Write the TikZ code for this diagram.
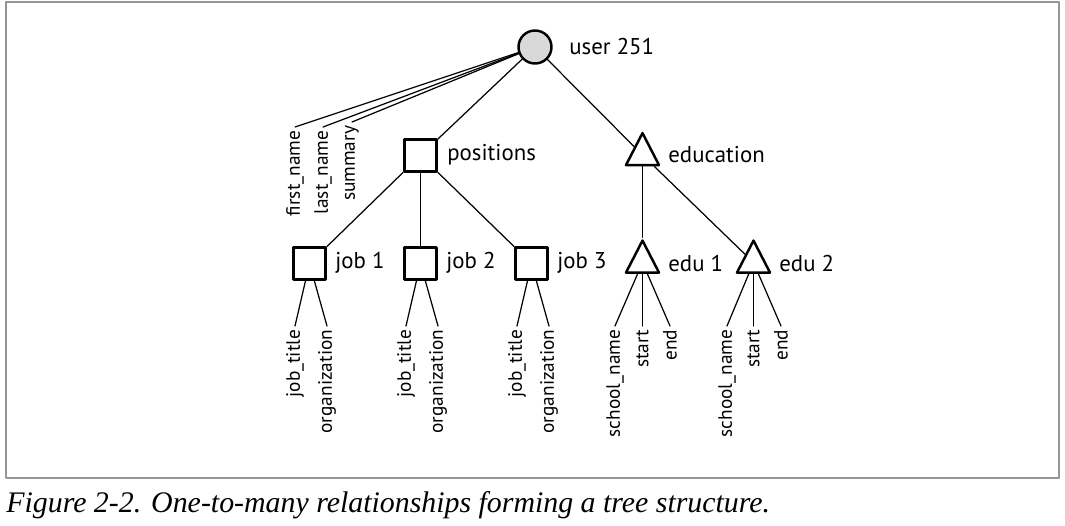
\documentclass[tikz,border=0pt]{standalone}
\usepackage{fontspec}
\setmainfont{Liberation Serif}
\setsansfont{PT Sans}
\usetikzlibrary{shapes.geometric}
\definecolor{nodegray}{RGB}{217,217,217}
\definecolor{framegray}{RGB}{150,150,150}
\begin{document}
\begin{tikzpicture}[x=0.02cm,y=-0.02cm,line cap=round,line join=round,
  font=\sffamily,
  recnode/.style={draw,line width=1.4pt,fill=white,minimum size=0.64cm,inner sep=0pt},
  trinode/.style={draw,line width=1.4pt,fill=white,isosceles triangle,shape border rotate=90,
    isosceles triangle stretches,minimum width=0.66cm,minimum height=0.64cm,inner sep=0pt},
  tag/.style={anchor=west,inner sep=0pt,font=\sffamily\fontsize{13}{15}\selectfont},
  attr/.style={rotate=90,anchor=east,inner sep=2pt,font=\sffamily\fontsize{11}{13}\selectfont},
  edge/.style={line width=0.7pt}]
\useasboundingbox (0,0) rectangle (1065,525);

% frame
\draw[framegray,line width=0.6pt] (6,2) rectangle (1059,478);

% root
\node[draw,circle,line width=1.4pt,fill=nodegray,minimum size=0.66cm] (user) at (535,47) {};
\node[tag] (userL) at (569,47) {user 251};

% second level
\node[recnode] (pos) at (420.5,155.5) {};
\node[tag] (posL) at (447,155) {positions};
\node[trinode] (edu) at (642.5,155) {};
\node[tag] (eduL) at (668,155) {education};

% third level
\node[recnode] (job1) at (309.5,263.5) {};
\node[recnode] (job2) at (420.5,263.5) {};
\node[recnode] (job3) at (531.5,263.5) {};
\node[trinode] (edu1) at (642.5,262.5) {};
\node[trinode] (edu2) at (753.5,262.5) {};
\node[tag] (job1L) at (335,263) {job 1};
\node[tag] (job2L) at (446,263) {job 2};
\node[tag] (job3L) at (557,263) {job 3};
\node[tag] (edu1L) at (668,263) {edu 1};
\node[tag] (edu2L) at (779,263) {edu 2};

% attributes of the user
\node[attr] (fn) at (295,127) {first\_name};
\node[attr] (ln) at (323,127) {last\_name};
\node[attr] (sm) at (352,122) {summary};

% attributes of jobs
\node[attr] (jt1) at (295,326) {job\_title};
\node[attr] (or1) at (327,326) {organization};
\node[attr] (jt2) at (406,326) {job\_title};
\node[attr] (or2) at (438,326) {organization};
\node[attr] (jt3) at (517,326) {job\_title};
\node[attr] (or3) at (549,326) {organization};

% attributes of education
\node[attr] (sn1) at (615,326) {school\_name};
\node[attr] (st1) at (642.5,326) {start};
\node[attr] (en1) at (670,326) {end};
\node[attr] (sn2) at (727,326) {school\_name};
\node[attr] (st2) at (753.5,326) {start};
\node[attr] (en2) at (781,326) {end};

% connectors
\draw[edge] (user) -- (pos);
\draw[edge] (user) -- (edu);
\draw[edge] (user) -- (fn.east);
\draw[edge] (user) -- (ln.east);
\draw[edge] (user) -- (sm.east);
\draw[edge] (pos) -- (job1);
\draw[edge] (pos) -- (job2);
\draw[edge] (pos) -- (job3);
\draw[edge] (edu) -- (edu1);
\draw[edge] (edu) -- (edu2);
\draw[edge] (job1) -- (jt1.east);
\draw[edge] (job1) -- (or1.east);
\draw[edge] (job2) -- (jt2.east);
\draw[edge] (job2) -- (or2.east);
\draw[edge] (job3) -- (jt3.east);
\draw[edge] (job3) -- (or3.east);
\draw[edge] (edu1) -- (sn1.east);
\draw[edge] (edu1) -- (st1.east);
\draw[edge] (edu1) -- (en1.east);
\draw[edge] (edu2) -- (sn2.east);
\draw[edge] (edu2) -- (st2.east);
\draw[edge] (edu2) -- (en2.east);

% caption
\node[anchor=west,inner sep=0pt,font=\rmfamily\itshape\fontsize{17}{19}\selectfont] (caption) at (6,505) {Figure 2-2. One-to-many relationships forming a tree structure.};

\end{tikzpicture}
\end{document}
